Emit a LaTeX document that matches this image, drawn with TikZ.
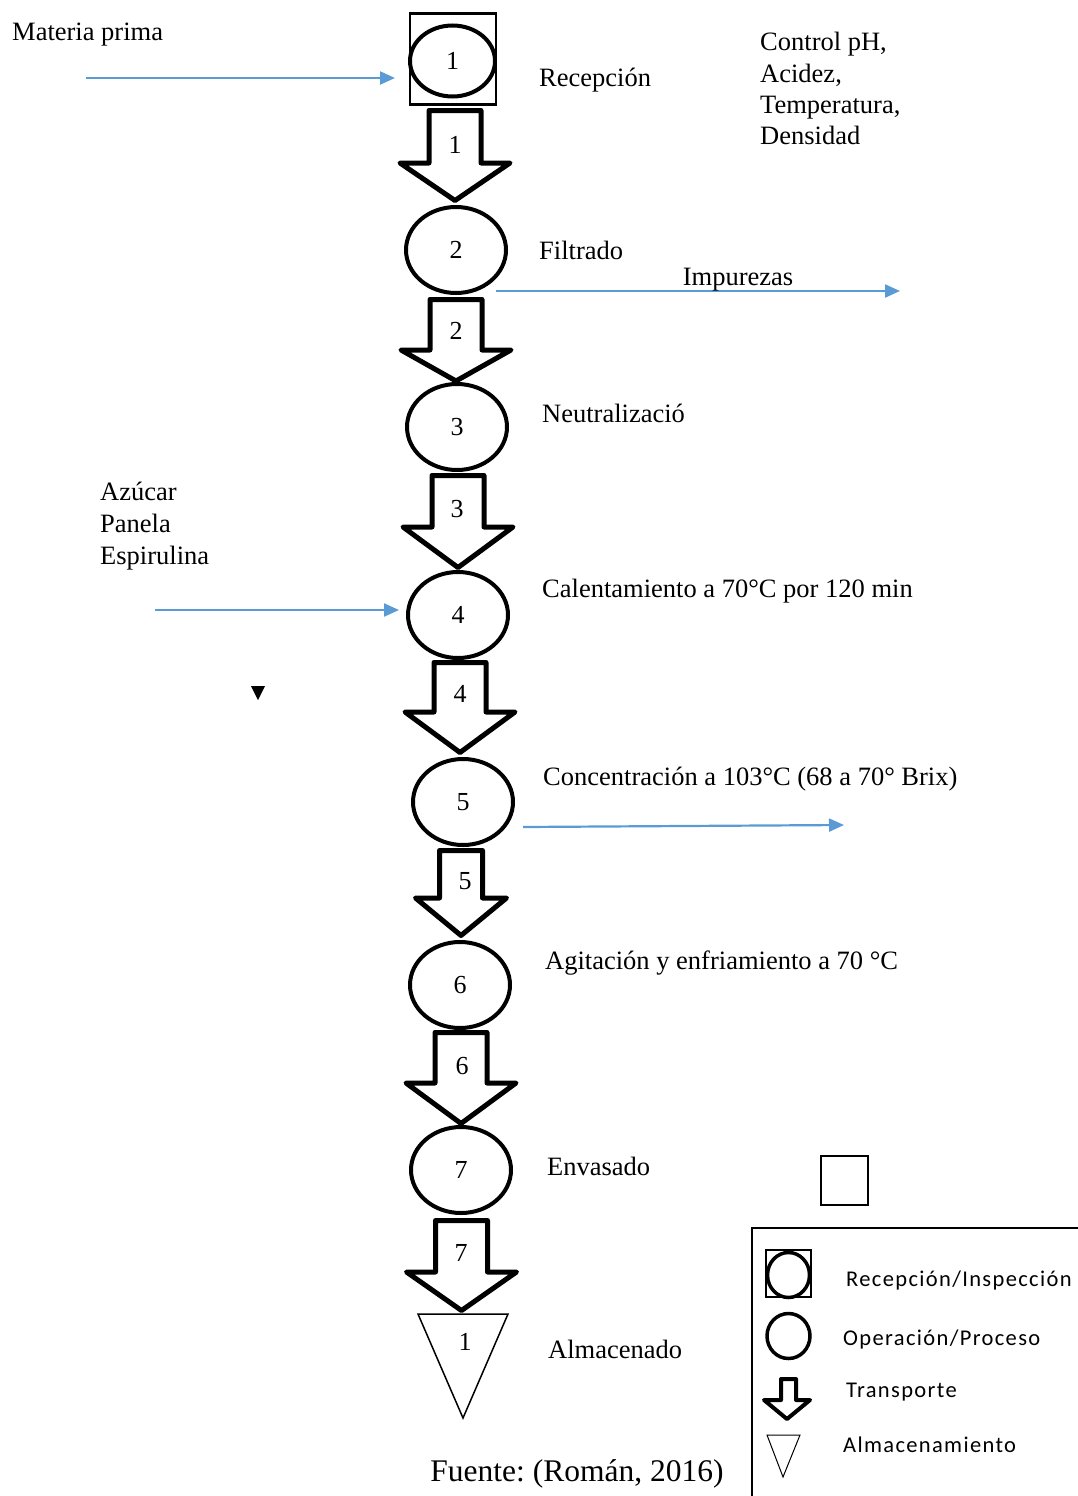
\documentclass[tikz,border=0pt]{standalone}
\usepackage{fontspec}
\setmainfont{Liberation Serif}
\newfontfamily\legendfont[LetterSpace=6]{Carlito}
\usetikzlibrary{shapes.geometric,arrows.meta}
\definecolor{flowblue}{HTML}{5B9BD5}
\frenchspacing
\tikzset{
  opnode/.style={ellipse,draw,line width=4pt,minimum width=100pt,minimum height=86pt,inner sep=0pt,font=\fontsize{26}{30}\selectfont},
  blockarrow/.style={draw,line width=5pt,fill=white,line join=round},
  lbl/.style={anchor=base west,inner sep=0pt,font=\fontsize{26.5}{30}\selectfont},
  num/.style={inner sep=0pt,font=\fontsize{26}{30}\selectfont},
  flow/.style={draw=flowblue,line width=2.2pt,-{Triangle[length=15pt,width=13pt]}},
  legtext/.style={anchor=base west,inner sep=0pt,font=\fontsize{22.5}{26}\legendfont},
}
\begin{document}
\frenchspacing
\begin{tikzpicture}[x=1pt,y=-1pt]
\useasboundingbox (0,0) rectangle (1078,1496);
% block arrows (drawn first so circles overlap)
\draw[blockarrow] (429,110.5) -- (429,163) -- (400,163) -- (455,200.5) -- (510,163) -- (481,163) -- (481,110.5) -- cycle;
\draw[blockarrow] (430,299.5) -- (430,350) -- (401,350) -- (456,381) -- (511,350) -- (482,350) -- (482,299.5) -- cycle;
\draw[blockarrow] (432,475.5) -- (432,527) -- (403,527) -- (458,567.5) -- (513,527) -- (484,527) -- (484,475.5) -- cycle;
\draw[blockarrow] (434,662.5) -- (434,712) -- (405,712) -- (460,752.5) -- (515,712) -- (486,712) -- (486,662.5) -- cycle;
\draw[blockarrow] (439.5,850.5) -- (439.5,898) -- (415.5,898) -- (461,935.5) -- (506.5,898) -- (482.5,898) -- (482.5,850.5) -- cycle;
\draw[blockarrow] (435,1032.5) -- (435,1083) -- (406,1083) -- (461,1123.5) -- (516,1083) -- (487,1083) -- (487,1032.5) -- cycle;
\draw[blockarrow] (435.5,1220.5) -- (435.5,1272) -- (406.5,1272) -- (461.5,1310.5) -- (516.5,1272) -- (487.5,1272) -- (487.5,1220.5) -- cycle;
\node[num] (a1) at (455,145) {1};
\node[num] (a2) at (456,331) {2};
\node[num] (a3) at (457,509) {3};
\node[num] (a4) at (460,694) {4};
\node[num] (a5) at (465,881) {5};
\node[num] (a6) at (462,1066) {6};
\node[num] (a7) at (461,1253) {7};
% reception box and circle
\node[draw,line width=2.5pt,minimum width=86pt,minimum height=91pt,inner sep=0pt] (box1) at (453,59) {};
\node[opnode,minimum width=85pt,minimum height=71pt] (c1) at (452.5,61) {1};
\node[opnode,fill=white] (c2) at (456,250) {2};
\node[opnode,fill=white] (c3) at (457,427) {3};
\node[opnode,fill=white] (c4) at (458,615) {4};
\node[opnode,fill=white] (c5) at (463,802) {5};
\node[opnode,fill=white] (c6) at (460,985) {6};
\node[opnode,fill=white] (c7) at (461,1170) {7};
% storage triangle
\draw[line width=1.5pt,fill=white] (418,1314) -- (508,1314) -- (463,1418) -- cycle;
\node[num] (t1) at (465,1342) {1};
% labels
\node[lbl] (mp) at (12,41) {Materia prima};
\node[lbl] (l1) at (539,86) {Recepción};
\node[lbl] (ctl1) at (760,51) {Control pH,};
\node[lbl] (ctl2) at (760,82) {Acidez,};
\node[lbl] (ctl3) at (760,113) {Temperatura,};
\node[lbl] (ctl4) at (760,144) {Densidad};
\node[lbl] (l2) at (539,259) {Filtrado};
\node[lbl] (l3) at (542,422) {Neutralizació};
\node[lbl] (in1) at (100,500) {Azúcar};
\node[lbl] (in2) at (100,532) {Panela};
\node[lbl] (in3) at (100,564) {Espirulina};
\node[lbl] (l4) at (542,597) {Calentamiento a 70°C por 120 min};
\node[lbl] (l5) at (543,785) {Concentración a 103°C (68 a 70° Brix)};
\node[lbl] (l6) at (545,969) {Agitación y enfriamiento a 70 °C};
\node[lbl] (l7) at (547,1175) {Envasado};
\node[lbl] (l8) at (548,1358) {Almacenado};
\node[inner sep=0pt,anchor=base,font=\fontsize{31.5}{36}\selectfont] (src) at (577,1481) {Fuente: (Román, 2016)};
% blue flows
\coordinate (f1s) at (86,78);
\coordinate (f1e) at (395,78);
\draw[flow] (f1s) -- (f1e);
\coordinate (f2s) at (496,291);
\coordinate (f2e) at (900,291);
\draw[flow] (f2s) -- (f2e);
\node[inner sep=0pt,anchor=base,font=\fontsize{26.5}{30}\selectfont] (imp) at (738,285) {Impurezas};
\coordinate (f3s) at (155,610);
\coordinate (f3e) at (399,610);
\draw[flow] (f3s) -- (f3e);
\coordinate (f4s) at (523,827);
\coordinate (f4e) at (844,825);
\draw[flow] (f4s) -- (f4e);
% small black triangle
\fill (251,686) -- (265,686) -- (258,700) -- cycle;
% small square
\node[draw,line width=2pt,minimum width=47pt,minimum height=49pt,inner sep=0pt] (sq) at (844,1180) {};
% legend
\draw[line width=2pt] (752,1496) -- (752,1228) -- (1078,1228);
\node[draw,line width=1.2pt,minimum width=45pt,minimum height=47pt,inner sep=0pt] (lgbox) at (788.5,1273.5) {};
\node[ellipse,draw,line width=3.5pt,minimum width=42pt,minimum height=45pt,inner sep=0pt] (lgc1) at (788.5,1275) {};
\node[ellipse,draw,line width=3.5pt,minimum width=43pt,minimum height=45pt,inner sep=0pt] (lgc2) at (788.5,1336) {};
\draw[line width=4pt,line join=round] (781,1379) -- (781,1400) -- (764,1400) -- (787,1419) -- (810,1400) -- (796,1400) -- (796,1379) -- cycle;
\draw[line width=1pt] (767,1435) -- (800,1435) -- (783,1477) -- cycle;
\node[legtext] (lt1) at (846,1286) {Recepción/Inspección};
\node[legtext] (lt2) at (843,1345) {Operación/Proceso};
\node[legtext] (lt3) at (846,1397) {Transporte};
\node[legtext] (lt4) at (843,1452) {Almacenamiento};
\end{tikzpicture}
\end{document}
